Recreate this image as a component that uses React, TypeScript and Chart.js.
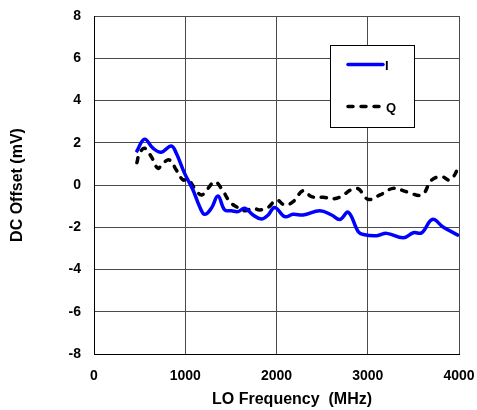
import React, { useEffect, useRef } from "react";
import { Chart, registerables } from "chart.js";
Chart.register(...registerables);

const freqI = [463, 554, 646, 737, 847, 902, 993, 1085, 1158, 1213, 1286, 1359, 1432, 1506, 1579, 1652, 1743, 1835, 1908, 1981, 2091, 2182, 2292, 2475, 2604, 2695, 2786, 2896, 2951, 3098, 3207, 3390, 3500, 3592, 3708, 3829, 4000];
const valI = [1.55, 2.17, 1.74, 1.55, 1.85, 1.5, 0.55, -0.24, -1.03, -1.39, -1.1, -0.52, -1.18, -1.22, -1.26, -1.1, -1.42, -1.61, -1.42, -1.06, -1.5, -1.39, -1.42, -1.22, -1.42, -1.63, -1.29, -2.21, -2.34, -2.4, -2.29, -2.5, -2.26, -2.26, -1.63, -2.0, -2.4];

const freqQ = [470, 499, 554, 628, 700, 755, 829, 902, 975, 1030, 1103, 1177, 1249, 1323, 1396, 1487, 1561, 1652, 1743, 1817, 1908, 2000, 2091, 2182, 2292, 2384, 2512, 2659, 2878, 3005, 3134, 3280, 3427, 3592, 3701, 3811, 3902, 4000];
const valQ = [1.06, 1.5, 1.74, 1.34, 0.79, 1.03, 1.18, 0.71, 0.24, 0.27, -0.16, -0.47, -0.16, 0.16, -0.16, -0.79, -1.03, -1.22, -1.1, -1.18, -1.06, -0.71, -0.95, -0.79, -0.27, -0.55, -0.58, -0.63, -0.16, -0.68, -0.47, -0.16, -0.32, -0.47, 0.24, 0.39, 0.24, 0.85];

const seriesNames = ["I", "Q"];
const xTitle = "LO Frequency  (MHz)";
const yTitle = "DC Offset (mV)";
const xMin = 0, xMax = 4000, xStep = 1000;
const yMin = -8, yMax = 8, yStep = 2;

const FONT = "'Liberation Sans', Arial, sans-serif";
const GRID = "#4a4a4a";

const legendPlugin = {
  id: "boxLegend",
  afterDatasetsDraw(chart: any) {
    const ctx = chart.ctx;
    const x0 = 330.5, y0 = 45.5, x1 = 414.5, y1 = 127.5;
    ctx.save();
    ctx.fillStyle = "#fff";
    ctx.fillRect(x0, y0, x1 - x0, y1 - y0);
    ctx.strokeStyle = "#000";
    ctx.lineWidth = 1;
    ctx.strokeRect(x0, y0, x1 - x0, y1 - y0);
    ctx.lineCap = "round";
    ctx.strokeStyle = "#0000ff";
    ctx.lineWidth = 3.5;
    ctx.beginPath();
    ctx.moveTo(348, 64.5);
    ctx.lineTo(383, 64.5);
    ctx.stroke();
    ctx.strokeStyle = "#000";
    ctx.setLineDash([5, 8]);
    ctx.beginPath();
    ctx.moveTo(348, 106.5);
    ctx.lineTo(382, 106.5);
    ctx.stroke();
    ctx.setLineDash([]);
    ctx.fillStyle = "#000";
    ctx.font = `bold 13px ${FONT}`;
    ctx.textBaseline = "middle";
    ctx.textAlign = "left";
    ctx.fillText(seriesNames[0], 385, 66);
    ctx.fillText(seriesNames[1], 386, 108);
    ctx.restore();
  },
};

export default function App() {
  const ref = useRef<HTMLCanvasElement>(null);
  useEffect(() => {
    if (!ref.current) return;
    const chart = new Chart(ref.current, {
      type: "line",
      data: {
        datasets: [
          {
            label: seriesNames[0],
            data: freqI.map((f, i) => ({ x: f, y: valI[i] })),
            borderColor: "#0000ff",
            borderWidth: 3.5,
            pointRadius: 0,
            tension: 0.4,
            fill: false,
          },
          {
            label: seriesNames[1],
            data: freqQ.map((f, i) => ({ x: f, y: valQ[i] })),
            borderColor: "#000000",
            borderWidth: 3.5,
            borderDash: [5, 8],
            borderCapStyle: "round",
            pointRadius: 0,
            tension: 0.4,
            fill: false,
          },
        ],
      },
      options: {
        animation: false,
        responsive: false,
        layout: { padding: { left: 0, top: 16, right: 18, bottom: 0 } },
        plugins: { legend: { display: false }, tooltip: { enabled: false } },
        scales: {
          x: {
            type: "linear",
            min: xMin,
            max: xMax,
            afterFit: (s: any) => { s.height = 56; s.paddingLeft = 0; s.paddingRight = 0; },
            ticks: {
              stepSize: xStep,
              padding: 14,
              color: "#000",
              font: { family: FONT, size: 14, weight: "bold" },
              maxRotation: 0,
              callback: (v: any) => String(v),
            },
            grid: { color: GRID, lineWidth: 1, drawTicks: false },
            border: { color: "#000", width: 1 },
            title: {
              display: true,
              text: "       " + xTitle,
              color: "#000",
              font: { family: FONT, size: 16, weight: "bold" },
              padding: { top: 1, bottom: 1 },
            },
          },
          y: {
            type: "linear",
            min: yMin,
            max: yMax,
            afterFit: (s: any) => { s.width = 94; s.paddingTop = 0; s.paddingBottom = 0; },
            ticks: {
              stepSize: yStep,
              padding: 13,
              color: "#000",
              font: { family: FONT, size: 14, weight: "bold" },
            },
            grid: { color: GRID, lineWidth: 1, drawTicks: false },
            border: { color: "#000", width: 1 },
            title: {
              display: true,
              text: yTitle,
              color: "#000",
              font: { family: FONT, size: 16, weight: "bold" },
              padding: { top: 8, bottom: 8 },
            },
          },
        },
      },
      plugins: [legendPlugin],
    } as any);
    return () => chart.destroy();
  }, []);
  return (
    <div style={{ position: "fixed", left: 0, top: 0, width: 477, height: 410, background: "#fff" }}>
      <canvas ref={ref} width={477} height={410} style={{ width: 477, height: 410, display: "block" }} />
    </div>
  );
}
